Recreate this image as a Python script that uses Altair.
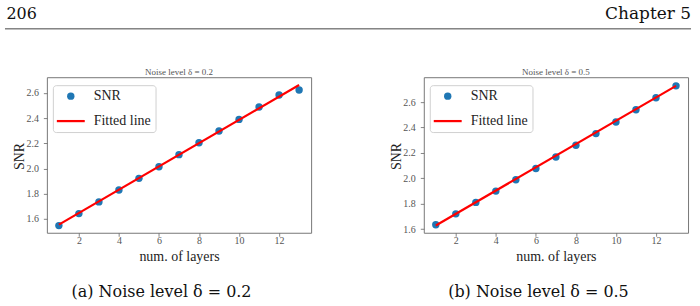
import altair as alt
import pandas as pd

# ---------------- data ----------------
layers = list(range(1, 14))
snr_a = [1.547, 1.642, 1.735, 1.830, 1.922, 2.014, 2.110, 2.205, 2.298, 2.390, 2.489, 2.584, 2.624]
snr_b = [1.634, 1.720, 1.810, 1.899, 1.988, 2.077, 2.168, 2.260, 2.352, 2.443, 2.540, 2.634, 2.728]
fit_x = [1, 13]
fit_a = [1.555, 2.663]
fit_b = [1.628, 2.728]
x_ticks = [2, 4, 6, 8, 10, 12]
y_ticks = [1.6, 1.8, 2.0, 2.2, 2.4, 2.6]
series = ["SNR", "Fitted line"]
panel_titles = ["Noise level δ = 0.2", "Noise level δ = 0.5"]
captions = ["(a) Noise level δ = 0.2", "(b) Noise level δ = 0.5"]
header_left = "206"
header_right = "Chapter 5"
x_domain = [0.4, 13.6]
y_domains = [[1.49, 2.725], [1.571, 2.796]]

# ---------------- styling ----------------
W, H = 265, 156
SERIF = "Liberation Serif"
TEX = "DejaVu Serif"

color_scale = alt.Scale(domain=series, range=["#1f77b4", "#ff0000"])
shape_scale = alt.Scale(domain=series, range=["circle", "M-1,-0.08H1V0.08H-1Z"])
size_scale = alt.Scale(domain=series, range=[55, 784])


def make_legend():
    return alt.Legend(
        title=None, orient="none", legendX=6, legendY=8, padding=4,
        rowPadding=4, labelOffset=9, labelFont=SERIF, labelFontSize=14,
        labelColor="#222", labelLimit=0, fillColor="rgba(255,255,255,0.8)",
        strokeColor="#d0d0d0", cornerRadius=3, symbolStrokeWidth=0,
        symbolOpacity=1,
    )


def panel(snr, fit, ydom, title, caption):
    pts = pd.DataFrame({"layers": layers, "snr": snr, "series": "SNR"})
    fl = pd.DataFrame({"layers": fit_x, "snr": fit, "series": "Fitted line"})
    x = alt.X(
        "layers:Q",
        scale=alt.Scale(domain=x_domain, nice=False, zero=False),
        axis=alt.Axis(
            values=x_ticks, title="num. of layers", grid=False, domain=False,
            labelFont=SERIF, labelFontSize=10, labelColor="#555",
            labelBaseline="middle", labelPadding=4,
            tickColor="#666", tickSize=3.5, tickWidth=0.8,
            titleFont=SERIF, titleFontSize=14, titleFontWeight="normal",
            titleColor="#222", titleY=24, titleBaseline="middle",
        ),
    )
    y = alt.Y(
        "snr:Q",
        scale=alt.Scale(domain=ydom, nice=False, zero=False),
        axis=alt.Axis(
            values=y_ticks, format=".1f", title="SNR", grid=False, domain=False,
            labelFont=SERIF, labelFontSize=10, labelColor="#555",
            labelPadding=5, tickColor="#666", tickSize=3.5, tickWidth=0.8,
            titleFont=SERIF, titleFontSize=14, titleFontWeight="normal",
            titleColor="#222", titleX=-27, titleY=79, titleAlign="center",
            titleBaseline="middle", titleAngle=270,
        ),
    )
    points = alt.Chart(pts).mark_point(filled=True, opacity=1).encode(
        x=x, y=y,
        color=alt.Color("series:N", scale=color_scale, legend=make_legend()),
        shape=alt.Shape("series:N", scale=shape_scale, legend=make_legend()),
        size=alt.Size("series:N", scale=size_scale, legend=make_legend()),
    )
    line = alt.Chart(fl).mark_line(strokeWidth=2.2).encode(
        x=x, y=y,
        color=alt.Color("series:N", scale=color_scale, legend=None),
    )
    ttl = alt.Chart(pd.DataFrame({"t": [title]})).mark_text(
        font=SERIF, fontSize=9, color="#555", baseline="middle", align="center"
    ).encode(text="t:N", x=alt.value(W / 2), y=alt.value(-5.5))
    cap = alt.Chart(pd.DataFrame({"t": [caption]})).mark_text(
        font=TEX, fontSize=16, color="#111", baseline="middle", align="center"
    ).encode(text="t:N", x=alt.value(115), y=alt.value(215))
    return alt.layer(points, line, ttl, cap).properties(
        width=W, height=H, view=alt.ViewBackground(stroke="#777", strokeWidth=1)
    )


pa = panel(snr_a, fit_a, y_domains[0], panel_titles[0], captions[0])
pb = panel(snr_b, fit_b, y_domains[1], panel_titles[1], captions[1])

# header
hdr_df = pd.DataFrame({"l": [header_left], "r": [header_right]})
h_left = alt.Chart(hdr_df).mark_text(
    font=TEX, fontSize=16, color="#111", align="left", baseline="alphabetic"
).encode(text="l:N", x=alt.value(5.5), y=alt.value(18))
h_right = alt.Chart(hdr_df).mark_text(
    font=TEX, fontSize=17, color="#111", align="right", baseline="alphabetic"
).encode(text="r:N", x=alt.value(692), y=alt.value(18))
h_rule = alt.Chart(hdr_df).mark_rule(color="#444", strokeWidth=1).encode(
    x=alt.value(4), x2=alt.value(692), y=alt.value(27.5)
)
header = alt.layer(h_left, h_right, h_rule).properties(width=700, height=76)

spacer = alt.Chart(pd.DataFrame({"t": [""]})).mark_text().encode(
    text="t:N", x=alt.value(20), y=alt.value(20)
).properties(width=46, height=H)

panels = alt.hconcat(pa, pb, spacing=113, bounds="flush").resolve_scale(
    x="independent", y="independent", color="independent",
    shape="independent", size="independent"
).resolve_legend(color="independent", shape="independent", size="independent")

row = alt.hconcat(spacer, panels, spacing=0, bounds="flush")

chart = alt.vconcat(header, row, spacing=0, bounds="flush").properties(
    padding=0, background="white"
).configure_view(stroke="transparent")

chart.save("out.html", embed_options={"renderer": "svg", "actions": False})
